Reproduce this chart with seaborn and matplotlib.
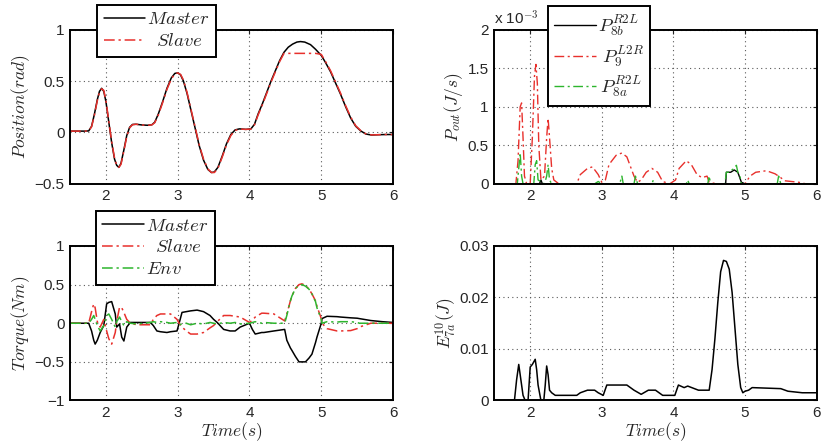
import pandas as pd
import seaborn as sns
import matplotlib.pyplot as plt

sns.set_style('white')
plt.rcParams['font.family'] = ['Liberation Sans', 'DejaVu Sans']
plt.rcParams['mathtext.fontset'] = 'cm'

# --- position (rad) ---
pos_t = [1.5, 1.7, 1.76, 1.8, 1.84, 1.88, 1.91, 1.94, 1.97, 2.0, 2.04, 2.08, 2.12, 2.15, 2.18,
         2.21, 2.25, 2.29, 2.33, 2.37, 2.42, 2.5, 2.58, 2.64, 2.68, 2.73, 2.79, 2.85, 2.91, 2.96,
         3.0, 3.04, 3.08, 3.13, 3.18, 3.24, 3.3, 3.36, 3.42, 3.47, 3.51, 3.56, 3.62, 3.68, 3.74,
         3.8, 3.86, 3.95, 4.02, 4.07, 4.12, 4.18, 4.24, 4.3, 4.36, 4.42, 4.48, 4.54, 4.6, 4.66,
         4.71, 4.77, 4.85, 4.92, 5.0, 5.06, 5.13, 5.2, 5.27, 5.34, 5.41, 5.48, 5.55, 5.62, 5.7,
         5.8, 5.9, 6.0]
pos_master = [0.013, 0.013, 0.015, 0.06, 0.18, 0.32, 0.4, 0.43, 0.4, 0.3, 0.1, -0.1, -0.26, -0.32, -0.34,
              -0.3, -0.17, -0.03, 0.05, 0.078, 0.08, 0.073, 0.07, 0.075, 0.1, 0.18, 0.3, 0.43, 0.53, 0.575,
              0.58, 0.56, 0.5, 0.38, 0.23, 0.05, -0.13, -0.27, -0.36, -0.39, -0.385, -0.34, -0.23, -0.11, -0.02,
              0.025, 0.035, 0.03, 0.035, 0.08, 0.18, 0.28, 0.39, 0.5, 0.6, 0.7, 0.78, 0.83, 0.86, 0.88,
              0.885, 0.88, 0.855, 0.81, 0.75, 0.68, 0.59, 0.48, 0.37, 0.25, 0.14, 0.06, 0.015, -0.015, -0.025,
              -0.022, -0.02, -0.02]
pos_slave = [0.013, 0.013, 0.015, 0.055, 0.17, 0.31, 0.39, 0.425, 0.41, 0.31, 0.11, -0.09, -0.25, -0.32, -0.34,
             -0.31, -0.18, -0.04, 0.045, 0.075, 0.08, 0.073, 0.07, 0.074, 0.095, 0.17, 0.29, 0.42, 0.52, 0.57,
             0.58, 0.565, 0.51, 0.39, 0.24, 0.06, -0.12, -0.26, -0.355, -0.39, -0.39, -0.35, -0.24, -0.12, -0.03,
             0.02, 0.033, 0.03, 0.033, 0.075, 0.17, 0.27, 0.38, 0.49, 0.59, 0.69, 0.77, 0.77, 0.77, 0.77,
             0.77, 0.77, 0.77, 0.77, 0.76, 0.69, 0.6, 0.49, 0.38, 0.26, 0.15, 0.065, 0.018, -0.013, -0.024,
             -0.022, -0.02, -0.02]

# --- torque (Nm) ---
tq_t = [1.5, 1.76, 1.8, 1.83, 1.85, 1.88, 1.92, 1.97, 2.01, 2.04, 2.08, 2.13, 2.15, 2.19, 2.22,
        2.25, 2.29, 2.34, 2.43, 2.62, 2.66, 2.71, 2.76, 2.85, 2.9, 2.99, 3.02, 3.06, 3.12, 3.18,
        3.27, 3.36, 3.45, 3.5, 3.55, 3.64, 3.73, 3.8, 3.87, 4.0, 4.04, 4.08, 4.17, 4.2, 4.34,
        4.49, 4.52, 4.57, 4.59, 4.64, 4.69, 4.73, 4.78, 4.83, 4.87, 4.92, 4.94, 5.0, 5.01, 5.08,
        5.22, 5.27, 5.41, 5.5, 5.53, 5.69, 5.85, 6.0]
tq_master = [0.0, 0.0, -0.1, -0.22, -0.27, -0.22, -0.12, -0.03, 0.25, 0.27, 0.28, 0.12, -0.05, -0.01, -0.18,
             -0.23, -0.05, 0.01, 0.01, 0.01, -0.03, -0.1, -0.11, -0.12, -0.11, -0.1, 0.0, 0.14, 0.15, 0.16,
             0.17, 0.15, 0.1, 0.05, 0.01, -0.08, -0.1, -0.1, -0.05, 0.0, -0.08, -0.14, -0.12, -0.12, -0.1,
             -0.08, -0.22, -0.32, -0.35, -0.43, -0.5, -0.5, -0.5, -0.45, -0.4, -0.25, -0.18, 0.0, 0.06, 0.09,
             0.085, 0.08, 0.07, 0.065, 0.06, 0.035, 0.02, 0.01]
tq_slave = [0.0, 0.0, 0.15, 0.25, 0.2, 0.02, -0.05, 0.05, -0.1, -0.2, -0.27, -0.12, 0.02, 0.21, 0.2,
            0.14, 0.05, 0.0, -0.02, -0.02, 0.05, 0.1, 0.12, 0.12, 0.12, 0.05, 0.0, -0.05, -0.1, -0.14,
            -0.14, -0.12, -0.06, -0.03, 0.02, 0.1, 0.1, 0.09, 0.08, 0.01, 0.04, 0.08, 0.13, 0.13, 0.12,
            0.03, 0.12, 0.29, 0.35, 0.45, 0.5, 0.51, 0.49, 0.44, 0.38, 0.29, 0.22, 0.06, 0.0, -0.07,
            -0.1, -0.1, -0.095, -0.07, -0.05, 0.0, 0.0, 0.0]
tq_env = [0.0, 0.0, 0.05, 0.1, 0.05, -0.03, -0.1, -0.03, 0.1, 0.12, 0.05, -0.05, 0.02, 0.08, 0.02,
          -0.03, 0.02, 0.0, -0.01, 0.01, 0.02, 0.01, 0.02, 0.01, 0.0, 0.01, -0.02, -0.01, 0.0, -0.02,
          0.0, -0.01, 0.01, 0.0, -0.01, 0.01, 0.0, 0.01, -0.01, 0.0, 0.01, 0.02, 0.0, 0.01, 0.0,
          0.0, 0.1, 0.29, 0.35, 0.45, 0.49, 0.5, 0.48, 0.44, 0.38, 0.28, 0.2, 0.05, 0.0, 0.02,
          0.015, 0.02, 0.02, 0.01, 0.0, 0.0, 0.0, 0.0]

# --- output power (x 1e-3 J/s) ---
p9_t = [1.5, 1.8, 1.83, 1.86, 1.88, 1.9, 1.92, 1.95, 2.0, 2.03, 2.06, 2.08, 2.1, 2.12, 2.15,
        2.2, 2.23, 2.25, 2.27, 2.3, 2.33, 2.4, 2.65, 2.7, 2.8, 2.87, 2.95, 3.0, 3.05, 3.1,
        3.2, 3.28, 3.35, 3.45, 3.5, 3.55, 3.62, 3.7, 3.78, 3.85, 3.95, 4.03, 4.08, 4.18, 4.25,
        4.33, 4.4, 4.47, 4.5, 4.6, 5.0, 5.07, 5.15, 5.3, 5.42, 5.5, 5.55, 5.65, 5.75, 5.85, 6.0]
p9 = [0.0, 0.0, 0.3, 1.0, 1.05, 0.6, 0.1, 0.0, 0.0, 0.6, 1.4, 1.55, 1.3, 0.5, 0.05,
      0.1, 0.6, 0.85, 0.6, 0.2, 0.05, 0.0, 0.0, 0.12, 0.2, 0.22, 0.12, 0.02, 0.05, 0.25,
      0.37, 0.4, 0.35, 0.1, 0.02, 0.05, 0.15, 0.2, 0.15, 0.03, 0.0, 0.05, 0.2, 0.3, 0.25,
      0.12, 0.08, 0.1, 0.02, 0.0, 0.0, 0.1, 0.15, 0.17, 0.13, 0.08, 0.04, 0.03, 0.02, 0.0, 0.0]
p8a_t = [1.5, 1.82, 1.84, 1.86, 1.88, 1.9, 2.05, 2.07, 2.09, 2.11, 2.2, 2.23, 2.25, 2.27, 2.3,
         2.9, 2.95, 3.0, 3.25, 3.28, 3.3, 3.45, 3.47, 3.5, 3.7, 3.72, 3.74, 4.18, 4.2, 4.22,
         4.48, 4.5, 4.52, 4.72, 4.74, 4.78, 4.8, 4.85, 4.88, 4.9, 4.93, 4.95, 5.45, 5.47, 5.5, 6.0]
p8a = [0.0, 0.0, 0.2, 0.4, 0.1, 0.0, 0.0, 0.25, 0.3, 0.05, 0.0, 0.1, 0.25, 0.05, 0.0,
       0.0, 0.03, 0.0, 0.0, 0.1, 0.0, 0.0, 0.1, 0.0, 0.0, 0.05, 0.0, 0.0, 0.05, 0.0,
       0.0, 0.1, 0.0, 0.0, 0.15, 0.15, 0.17, 0.2, 0.24, 0.15, 0.1, 0.0, 0.0, 0.1, 0.0, 0.0]
p8b_t = [1.5, 2.13, 2.15, 2.17, 4.73, 4.74, 4.8, 4.85, 4.9, 4.95, 5.0, 6.0]
p8b = [0.0, 0.0, 0.05, 0.0, 0.0, 0.15, 0.15, 0.18, 0.15, 0.02, 0.0, 0.0]

# --- energy (J) ---
e_t = [1.5, 1.78, 1.81, 1.84, 1.87, 1.9, 1.93, 1.97, 2.0, 2.03, 2.07, 2.09, 2.11, 2.15, 2.19,
       2.21, 2.23, 2.25, 2.27, 2.3, 2.35, 2.65, 2.7, 2.8, 2.9, 2.95, 3.02, 3.07, 3.2, 3.35,
       3.45, 3.55, 3.65, 3.75, 3.85, 4.02, 4.07, 4.15, 4.2, 4.35, 4.5, 4.54, 4.58, 4.62, 4.66,
       4.7, 4.74, 4.78, 4.82, 4.86, 4.9, 4.94, 4.97, 5.0, 5.05, 5.1, 5.5, 5.6, 5.8, 6.0]
e_7a = [0.0, 0.0, 0.004, 0.007, 0.004, 0.001, 0.0, 0.0, 0.0065, 0.007, 0.008, 0.006, 0.003, 0.0, 0.0,
        0.003, 0.0067, 0.005, 0.002, 0.0015, 0.001, 0.001, 0.0015, 0.002, 0.002, 0.0015, 0.001, 0.003, 0.003, 0.003,
        0.002, 0.0012, 0.002, 0.002, 0.001, 0.001, 0.003, 0.0025, 0.0028, 0.002, 0.002, 0.006, 0.012, 0.019, 0.025,
        0.0272, 0.027, 0.0255, 0.021, 0.014, 0.007, 0.0025, 0.0015, 0.0018, 0.002, 0.0025, 0.0023, 0.0018, 0.0015, 0.0015]

RED = '#e8302c'
GREEN = '#2db52d'
DASHDOT = (0, (7, 2.5, 1.5, 2.5))

fig = plt.figure(figsize=(8.24, 4.44), dpi=100)
ax1 = fig.add_axes([0.085, 0.586, 0.392, 0.347])
ax2 = fig.add_axes([0.600, 0.586, 0.391, 0.347])
ax3 = fig.add_axes([0.085, 0.098, 0.392, 0.348])
ax4 = fig.add_axes([0.600, 0.098, 0.391, 0.348])

sns.lineplot(x=pos_t, y=pos_master, ax=ax1, color='k', lw=1.1, label='$Master$')
sns.lineplot(x=pos_t, y=pos_slave, ax=ax1, color=RED, lw=1.1, linestyle=DASHDOT, label=r'$\;\;Slave$')

sns.lineplot(x=p8b_t, y=p8b, ax=ax2, color='k', lw=1.0, label=r'$P_{8b}^{R2L}\;\;\;$')
sns.lineplot(x=p9_t, y=p9, ax=ax2, color=RED, lw=1.0, linestyle=DASHDOT, label=r'$\;P_{9}^{L2R}$')
sns.lineplot(x=p8a_t, y=p8a, ax=ax2, color=GREEN, lw=1.0, linestyle=DASHDOT, label=r'$\,P_{8a}^{R2L}$')

sns.lineplot(x=tq_t, y=tq_master, ax=ax3, color='k', lw=1.1, label='$Master$')
sns.lineplot(x=tq_t, y=tq_slave, ax=ax3, color=RED, lw=1.1, linestyle=DASHDOT, label=r'$\;\;Slave$')
sns.lineplot(x=tq_t, y=tq_env, ax=ax3, color=GREEN, lw=1.1, linestyle=DASHDOT, label='$Env$')

sns.lineplot(x=e_t, y=e_7a, ax=ax4, color='k', lw=1.1, legend=False)

ax1.set_ylim(-0.5, 1); ax1.set_yticks([-0.5, 0, 0.5, 1])
ax2.set_ylim(0, 2); ax2.set_yticks([0, 0.5, 1, 1.5, 2])
ax3.set_ylim(-1, 1); ax3.set_yticks([-1, -0.5, 0, 0.5, 1])
ax4.set_ylim(0, 0.03); ax4.set_yticks([0, 0.01, 0.02, 0.03])
ax1.set_yticklabels(['\u22120.5', '0', '0.5', '1'])
ax2.set_yticklabels(['0', '0.5', '1', '1.5', '2'])
ax3.set_yticklabels(['\u22121', '\u22120.5', '0', '0.5', '1'])
ax4.set_yticklabels(['0', '0.01', '0.02', '0.03'])

ax1.set_ylabel('$Position(rad)$', fontsize=12.5, labelpad=2)
ax2.set_ylabel('$P_{out}(J/s)$', fontsize=12.5, labelpad=2)
ax3.set_ylabel('$Torque(Nm)$', fontsize=12.5, labelpad=2)
ax4.set_ylabel('$E_{7a}^{10}(J)$', fontsize=12.5, labelpad=0)
ax3.set_xlabel('$Time(s)$', fontsize=12.5, labelpad=0)
ax4.set_xlabel('$Time(s)$', fontsize=12.5, labelpad=0)

ax2.text(0.0, 1.015, 'x 10$^{-3}$', transform=ax2.transAxes, fontsize=11, ha='left', va='bottom')

for ax in (ax1, ax2, ax3, ax4):
    ax.set_xlim(1.5, 6)
    ax.set_xticks([2, 3, 4, 5, 6])
    ax.grid(True, linestyle=(0, (1, 3)), color='0.35', lw=0.8)
    ax.tick_params(direction='in', top=True, right=True, length=3, labelsize=11, pad=4)
    for s in ax.spines.values():
        s.set_linewidth(1.4)
        s.set_color('k')

leg_kw = dict(loc='upper left', borderaxespad=0, fancybox=False, framealpha=1, edgecolor='k',
              fontsize=13.5, handlelength=2.2, handletextpad=0.1, labelspacing=0.25, borderpad=0.35)
l1 = ax1.legend(bbox_to_anchor=(0.084, 1.162), **leg_kw)
l2 = ax2.legend(bbox_to_anchor=(0.166, 1.156), **leg_kw)
l3 = ax3.legend(bbox_to_anchor=(0.08, 1.227), **leg_kw)
for l in (l1, l2, l3):
    l.get_frame().set_linewidth(1.4)
    l.set_zorder(10)

fig.savefig('out.png', dpi=100)
